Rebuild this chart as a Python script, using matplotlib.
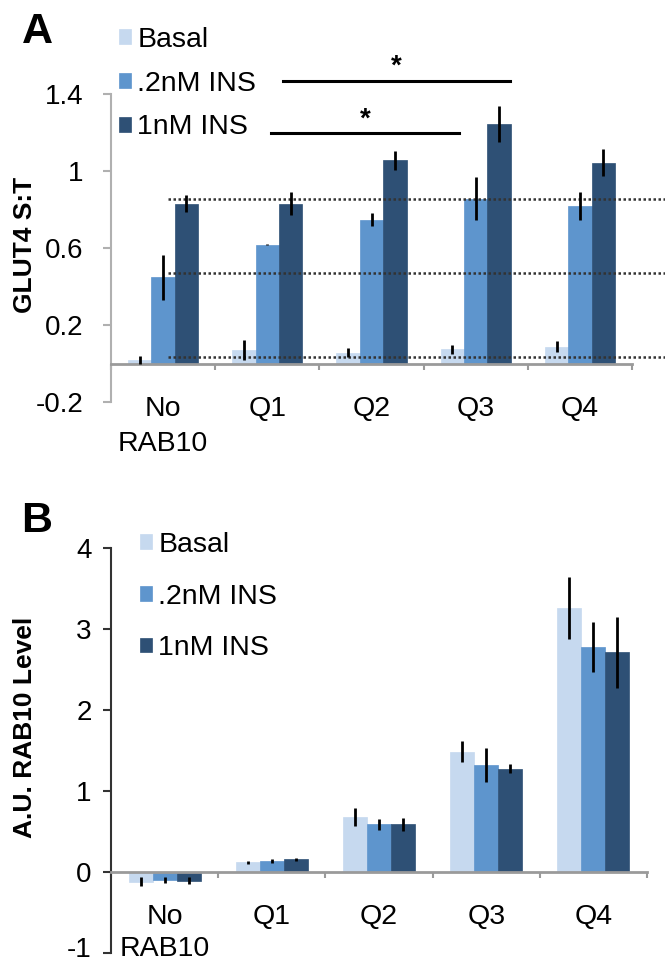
import numpy as np
import matplotlib
matplotlib.use('Agg')
import matplotlib.pyplot as plt
from matplotlib.transforms import ScaledTranslation

plt.rcParams['font.family'] = ['Liberation Sans', 'DejaVu Sans']

# ---- data ----
groups = ['No', 'Q1', 'Q2', 'Q3', 'Q4']
series = ['Basal', '.2nM INS', '1nM INS']
colors = ['#c6d9ef', '#5e95cd', '#2e5075']

# panel A : GLUT4 S:T
glut_basal = [0.02, 0.068, 0.057, 0.073, 0.088]
glut_basal_err = [0.02, 0.052, 0.025, 0.025, 0.03]
glut_02 = [0.448, 0.618, 0.748, 0.857, 0.816]
glut_02_err = [0.117, 0.005, 0.036, 0.11, 0.073]
glut_1 = [0.83, 0.83, 1.055, 1.245, 1.044]
glut_1_err = [0.043, 0.06, 0.05, 0.095, 0.07]
ref_lines = [0.852, 0.471, 0.033]
sig_lower = (1.035, 2.84, 1.195)   # x from, x to, y
sig_upper = (1.15, 3.33, 1.47)

# panel B : RAB10 level
rab_basal = [-0.118, 0.12, 0.675, 1.485, 3.26]
rab_basal_err = [0.055, 0.02, 0.11, 0.13, 0.378]
rab_02 = [-0.098, 0.135, 0.59, 1.325, 2.78]
rab_02_err = [0.04, 0.02, 0.07, 0.21, 0.31]
rab_1 = [-0.105, 0.155, 0.59, 1.277, 2.71]
rab_1_err = [0.04, 0.02, 0.08, 0.06, 0.433]

W = 0.224
x = np.arange(len(groups))

fig = plt.figure(figsize=(6.65, 9.65), dpi=100)
axA = fig.add_axes([111/665, 1-402/965, 521/665, 308/965])
axB = fig.add_axes([111/665, 1-953/965, 536/665, 405/965])


def draw(ax, vals, errs, lw):
    handles = []
    for k in range(3):
        b = ax.bar(x + (k-1)*W, vals[k], W, color=colors[k], edgecolor=colors[k],
                   linewidth=0.5, zorder=2, label=series[k])
        ax.errorbar(x + (k-1)*W, vals[k], yerr=errs[k], fmt='none', ecolor='black',
                    elinewidth=lw, capsize=0, zorder=4)
        handles.append(b)
    return handles


def style(ax, ylim, ticks, left_col, pad):
    ax.set_xlim(-0.5, 4.5)
    ax.set_ylim(*ylim)
    for s in ['top', 'right']:
        ax.spines[s].set_visible(False)
    ax.spines['left'].set_color(left_col)
    ax.spines['left'].set_linewidth(1.5)
    ax.spines['bottom'].set_position(('data', 0))
    ax.spines['bottom'].set_color('#9a9a9a')
    ax.spines['bottom'].set_linewidth(2)
    ax.set_yticks(ticks)
    ax.set_yticklabels([('%g' % t) for t in ticks])
    ax.tick_params(axis='y', direction='out', length=6, width=1.5, color=left_col,
                   labelsize=20, pad=pad)
    ax.set_xticks(np.arange(-0.5, 5.0, 1.0))
    ax.set_xticklabels([])
    ax.tick_params(axis='x', direction='out', length=4, width=1.5, color='#9a9a9a')


hA = draw(axA, [glut_basal, glut_02, glut_1], [glut_basal_err, glut_02_err, glut_1_err], 2)
style(axA, (-0.2, 1.4), [-0.2, 0.2, 0.6, 1.0, 1.4], '#b0b0b0', 14)

for y in ref_lines:
    axA.plot([0.047, 4.82], [y, y], color='#333333', lw=1.8, ls=(0, (1, 1)),
             zorder=3, clip_on=False)

for (x0, x1, y) in [sig_lower, sig_upper]:
    axA.plot([x0, x1], [y, y], color='black', lw=2.2, clip_on=False, zorder=5)
    axA.text((x0 + x1)/2, y + 0.005, '*', ha='center', va='bottom', fontsize=20,
             fontweight='bold', clip_on=False)

hB = draw(axB, [rab_basal, rab_02, rab_1], [rab_basal_err, rab_02_err, rab_1_err], 2)
style(axB, (-1, 4), [-1, 0, 1, 2, 3, 4], '#333333', 8)
# keep the bottom "-1" label inside the canvas
lab = axB.get_yticklabels()[0]
lab.set_transform(lab.get_transform() + ScaledTranslation(0, 6/100, fig.dpi_scale_trans))

# category labels
for ax, y1, y2 in [(axA, -0.234, -0.416), (axB, -0.552, -0.945)]:
    for i, g in enumerate(groups):
        ax.text(i, y1, g, ha='center', va='center', fontsize=20.5, clip_on=False)
    ax.text(0, y2, 'RAB10', ha='center', va='center', fontsize=20.5, clip_on=False)

fig.text(25/665, 1-245/965, 'GLUT4 S:T', rotation=90, ha='center', va='center',
         fontsize=19, fontweight='bold')
fig.text(25/665, 1-727/965, 'A.U. RAB10 Level', rotation=90, ha='center', va='center',
         fontsize=19, fontweight='bold')
fig.text(37/665, 1-32/965, 'A', ha='center', va='center', fontsize=31, fontweight='bold')
fig.text(37/665, 1-521/965, 'B', ha='center', va='center', fontsize=31, fontweight='bold')

fig.legend(handles=hA, labels=series, loc='upper left', bbox_to_anchor=(119/665, 1-27/965),
           frameon=False, fontsize=20.5, handlelength=0.42, handleheight=0.42,
           handletextpad=0.22, labelspacing=0.62, borderpad=0, borderaxespad=0)
fig.legend(handles=hB, labels=series, loc='upper left', bbox_to_anchor=(140/665, 1-532/965),
           frameon=False, fontsize=20.5, handlelength=0.42, handleheight=0.42,
           handletextpad=0.22, labelspacing=0.9, borderpad=0, borderaxespad=0)

fig.savefig('out.png', dpi=100)
